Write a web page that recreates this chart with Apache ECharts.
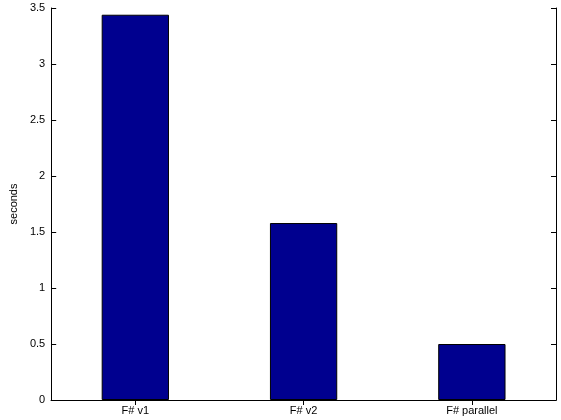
<!DOCTYPE html>
<html>
<head>
	<meta charset="UTF-8">
	<title>F# timing</title>
	<style>
		* { margin: 0; padding: 0; }
		body { background: #fff; }
		#charts { width: 561px; height: 420px; }
	</style>
</head>
<body>
	<div id="charts"></div>
	<script src="https://cdn.jsdelivr.net/npm/echarts@6/dist/echarts.min.js"></script>
	<script>
		// data
		var categories = ['F# v1', 'F# v2', 'F# parallel'];
		var seconds = [3.44, 1.58, 0.5];
		var yTicks = [0, 0.5, 1, 1.5, 2, 2.5, 3, 3.5];

		var font = 'Liberation Sans, Arial, sans-serif';
		var axisLine = { show: true, lineStyle: { color: '#000', width: 1 } };
		var tick = { show: true, inside: true, length: 5, lineStyle: { color: '#000' } };

		var mycharts = echarts.init(document.getElementById('charts'));
		var option = {
			animation: false,
			backgroundColor: '#fff',
			grid: { left: 47, right: 5, top: 8, bottom: 20 },
			xAxis: [
				{
					type: 'category',
					data: categories,
					position: 'bottom',
					axisLine: axisLine,
					axisTick: Object.assign({ alignWithLabel: true }, tick),
					axisLabel: { color: '#000', fontFamily: font, fontSize: 11, margin: 5 },
					splitLine: { show: false }
				},
				{
					type: 'category',
					data: categories,
					position: 'top',
					axisLine: axisLine,
					axisTick: Object.assign({ alignWithLabel: true }, tick),
					axisLabel: { show: false },
					splitLine: { show: false }
				}
			],
			yAxis: [
				{
					type: 'value',
					min: yTicks[0],
					max: yTicks[yTicks.length - 1],
					interval: 0.5,
					position: 'left',
					name: 'seconds',
					nameLocation: 'middle',
					nameGap: 32,
					nameTextStyle: { color: '#000', fontFamily: font, fontSize: 11 },
					axisLine: axisLine,
					axisTick: tick,
					axisLabel: { color: '#000', fontFamily: font, fontSize: 11, margin: 6 },
					splitLine: { show: false }
				},
				{
					type: 'value',
					min: yTicks[0],
					max: yTicks[yTicks.length - 1],
					interval: 0.5,
					position: 'right',
					axisLine: axisLine,
					axisTick: tick,
					axisLabel: { show: false },
					splitLine: { show: false }
				}
			],
			series: [
				{
					type: 'bar',
					data: seconds,
					barWidth: '40%',
					itemStyle: { color: '#00008f', borderColor: '#000', borderWidth: 1 }
				}
			]
		};
		mycharts.setOption(option);
	</script>
</body>
</html>
